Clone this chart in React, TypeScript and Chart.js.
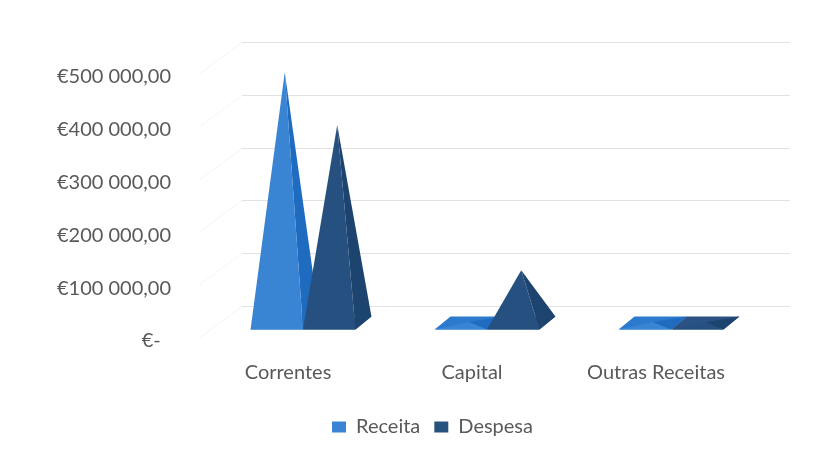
import React, { useEffect, useRef } from 'react';
import { Chart, registerables } from 'chart.js';

Chart.register(...registerables);

const categories = ['Correntes', 'Capital', 'Outras Receitas'];
const seriesNames = ['Receita', 'Despesa'];
const receita = [475000, 2000, 1500];
const despesa = [375000, 100000, 1500];
const yTicks = [0, 100000, 200000, 300000, 400000, 500000];

const palette = [
  { legend: '#3b84d5', front: '#3a84d4', side: '#1f6bc0', top: '#2b7acd' },
  { legend: '#27517f', front: '#26507f', side: '#1d436f', top: '#2a5384' },
];

function formatEuro(v: number): string {
  if (v === 0) return '€-  ';
  const s = Math.round(v).toString().replace(/\B(?=(\d{3})+(?!\d))/g, ' ');
  return '€' + s + ',00';
}

const DX = 16;
const DY = 13;

const pyramidPlugin = {
  id: 'pyramids3d',
  afterLayout(chart: any) {
    const lg = chart.legend;
    if (lg) {
      lg.left += 51;
      lg.right += 51;
    }
  },
  beforeDatasetsDraw(chart: any) {
    const ctx = chart.ctx as CanvasRenderingContext2D;
    const area = chart.chartArea;
    const yScale = chart.scales.y;
    ctx.save();
    yTicks.forEach((v) => {
      const gy = Math.round(yScale.getPixelForValue(v) - 17) + 0.5;
      ctx.strokeStyle = '#e2e2e2';
      ctx.lineWidth = 1;
      ctx.beginPath();
      ctx.moveTo(area.left + 31, gy);
      ctx.lineTo(area.right + 27, gy);
      ctx.stroke();
      ctx.strokeStyle = '#f4f4f4';
      ctx.beginPath();
      ctx.moveTo(area.left + 31, gy);
      ctx.lineTo(area.left - 11, gy + 31);
      ctx.stroke();
    });
    chart.data.datasets.forEach((_ds: any, di: number) => {
      const meta = chart.getDatasetMeta(di);
      const pal = palette[di];
      meta.data.forEach((el: any) => {
        const p = el.getProps(['x', 'y', 'base', 'width'], true);
        const x = p.x, y = p.y, base = p.base, w = p.width;
        const fy = base + DY / 2;
        const by = base - DY / 2;
        const FL = [x - w / 2, fy];
        const FR = [x + w / 2, fy];
        const BR = [x + w / 2 + DX, by];
        const BL = [x - w / 2 + DX, by];
        const A = [x + DX / 2, y];
        const poly = (pts: number[][], color: string) => {
          ctx.fillStyle = color;
          ctx.beginPath();
          ctx.moveTo(pts[0][0], pts[0][1]);
          for (let i = 1; i < pts.length; i++) ctx.lineTo(pts[i][0], pts[i][1]);
          ctx.closePath();
          ctx.fill();
        };
        poly([FL, FR, BR, BL], pal.top);
        poly([FR, BR, A], pal.side);
        poly([FL, FR, A], pal.front);
      });
    });
    ctx.restore();
    return false;
  },
};

export default function App() {
  const canvasRef = useRef<HTMLCanvasElement | null>(null);

  useEffect(() => {
    if (!canvasRef.current) return;
    const textColor = '#595959';
    const font = { family: 'Lato, "Open Sans", sans-serif', size: 20 };
    const chart = new Chart(canvasRef.current, {
      type: 'bar',
      data: {
        labels: categories,
        datasets: [
          { label: seriesNames[0], data: receita, backgroundColor: palette[0].legend, borderWidth: 0 },
          { label: seriesNames[1], data: despesa, backgroundColor: palette[1].legend, borderWidth: 0 },
        ],
      },
      options: {
        animation: false,
        responsive: true,
        maintainAspectRatio: false,
        layout: { padding: { left: 0, right: 72, top: 59, bottom: 11 } },
        datasets: { bar: { categoryPercentage: 0.57, barPercentage: 1 } },
        scales: {
          x: {
            grid: { display: false, drawTicks: false },
            border: { display: false },
            ticks: { color: textColor, font, labelOffset: -15, padding: 38 },
            afterFit: (s: any) => { s.height = 80; },
          },
          y: {
            min: 0,
            max: 500000,
            grid: { display: false, drawTicks: false },
            border: { display: false },
            afterBuildTicks: (s: any) => { s.ticks = yTicks.map((v) => ({ value: v })); },
            afterFit: (s: any) => { s.width = 211; },
            ticks: {
              color: textColor,
              font,
              padding: 40,
              labelOffset: 18,
              callback: (v: any) => formatEuro(Number(v)),
            },
          },
        },
        plugins: {
          legend: {
            position: 'bottom',
            labels: { color: textColor, font, boxWidth: 14, boxHeight: 11, padding: 14 },
          },
          tooltip: { enabled: false },
        },
      },
      plugins: [pyramidPlugin],
    } as any);
    return () => chart.destroy();
  }, []);

  return (
    <div style={{ position: 'absolute', left: 0, top: 0, width: 835, height: 458, background: '#fff' }}>
      <canvas ref={canvasRef} />
    </div>
  );
}
